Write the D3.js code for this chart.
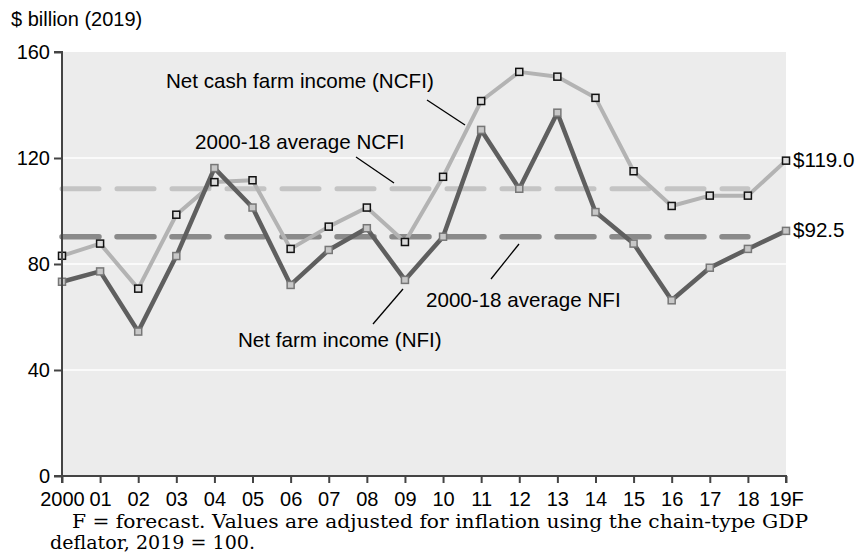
<!DOCTYPE html>
<html>
<head>
<meta charset="utf-8">
<script src="https://cdn.jsdelivr.net/npm/d3@7"></script>
<style>
body{margin:0;background:#fff;}
svg{display:block;}
</style>
</head>
<body>
<svg id="chart" width="857" height="553"></svg>
<script>
const years = ["2000","01","02","03","04","05","06","07","08","09","10","11","12","13","14","15","16","17","18","19F"];
const ncfi = [83.1,87.7,70.7,98.6,110.9,111.6,85.7,94.1,101.3,88.3,112.9,141.5,152.5,150.7,142.7,115.0,101.9,105.8,105.8,119.0];
const nfi  = [73.3,77.2,54.5,83.0,116.2,101.3,72.1,85.3,93.5,74.0,90.3,130.6,108.4,137.1,99.6,87.7,66.3,78.6,85.7,92.5];
const avgNcfi = 108.4;
const avgNfi = 90.3;
const yTicks = [0,40,80,120,160];
const endLabels = ["$119.0","$92.5"];

const svg = d3.select("#chart");
const m = {left:62, right:786, top:52, bottom:476};
const x = d3.scalePoint().domain(years).range([m.left, m.right]);
const y = d3.scaleLinear().domain([0,160]).range([m.bottom, m.top]);
const sans = "'Liberation Sans', Arial, sans-serif";
const fs = 20;
const fsAnn = 20.6;

// background
svg.append("rect").attr("x",m.left).attr("y",m.top).attr("width",m.right-m.left).attr("height",m.bottom-m.top).attr("fill","#ececec");
// gridlines
svg.append("g").selectAll("line").data(yTicks.filter(d=>d>0 && d<160)).join("line")
  .attr("x1",m.left).attr("x2",m.right).attr("y1",d=>y(d)).attr("y2",d=>y(d))
  .attr("stroke","#fff").attr("stroke-width",1.5);

// average dashed lines
svg.append("line").attr("x1",x("2000")).attr("x2",x("18")).attr("y1",y(avgNcfi)).attr("y2",y(avgNcfi))
  .attr("stroke","#c4c4c4").attr("stroke-width",5).attr("stroke-linecap","round").attr("stroke-dasharray","37 18");
svg.append("line").attr("x1",x("2000")).attr("x2",x("18")).attr("y1",y(avgNfi)).attr("y2",y(avgNfi))
  .attr("stroke","#8a8a8a").attr("stroke-width",5.5).attr("stroke-linecap","round").attr("stroke-dasharray","37 18");

const line = d3.line().x((d,i)=>x(years[i])).y(d=>y(d));
svg.append("path").datum(ncfi).attr("d",line).attr("fill","none").attr("stroke","#b3b3b3").attr("stroke-width",4).attr("stroke-linejoin","round");
svg.append("path").datum(nfi).attr("d",line).attr("fill","none").attr("stroke","#5f5f5f").attr("stroke-width",4.5).attr("stroke-linejoin","round");

const sz = 7;
svg.append("g").selectAll("rect").data(nfi).join("rect")
  .attr("x",(d,i)=>x(years[i])-sz/2).attr("y",d=>y(d)-sz/2).attr("width",sz).attr("height",sz)
  .attr("fill","#c8c8c8").attr("stroke","#777").attr("stroke-width",1.5);
svg.append("g").selectAll("rect").data(ncfi).join("rect")
  .attr("x",(d,i)=>x(years[i])-sz/2).attr("y",d=>y(d)-sz/2).attr("width",sz).attr("height",sz)
  .attr("fill","#dcdcdc").attr("stroke","#111").attr("stroke-width",1.5);

// axes
const ya = svg.append("g").attr("transform",`translate(${m.left},0)`)
  .call(d3.axisLeft(y).tickValues(yTicks).tickSize(8).tickPadding(4));
const xa = svg.append("g").attr("transform",`translate(0,${m.bottom})`)
  .call(d3.axisBottom(x).tickSize(7).tickPadding(9));
[ya,xa].forEach(a=>{
  a.attr("font-size",fs).attr("font-family",sans);
  a.select(".domain").attr("stroke","#444").attr("stroke-width",2);
  a.selectAll(".tick line").attr("stroke","#444").attr("stroke-width",2);
  a.selectAll("text").attr("font-family",sans).attr("font-size",fs).attr("fill","#000");
});
ya.select(".domain").attr("d",`M-8,${m.bottom}H0V${m.top}H-8`);
xa.select(".domain").attr("d",`M${m.left},7V0H${m.right}V7`);

// title
svg.append("text").attr("x",11).attr("y",26).attr("font-family",sans).attr("font-size",fs).text("$ billion (2019)");

// annotations
const ann = [
  {t:"Net cash farm income (NCFI)", x:166, y:88, l:[427,100,465,125]},
  {t:"2000-18 average NCFI", x:195, y:149, l:[356,157,394,183]},
  {t:"2000-18 average NFI", x:426, y:307, l:[519,244,491,279]},
  {t:"Net farm income (NFI)", x:238, y:347, l:[373,324,403,289]}
];
ann.forEach(a=>{
  svg.append("text").attr("x",a.x).attr("y",a.y).attr("font-family",sans).attr("font-size",fsAnn).text(a.t);
  svg.append("line").attr("x1",a.l[0]).attr("y1",a.l[1]).attr("x2",a.l[2]).attr("y2",a.l[3]).attr("stroke","#000").attr("stroke-width",1.3);
});

// end labels
svg.append("text").attr("x",x("19F")+7).attr("y",y(ncfi[19])+6).attr("font-family",sans).attr("font-size",fsAnn).text(endLabels[0]);
svg.append("text").attr("x",x("19F")+7).attr("y",y(nfi[19])+6).attr("font-family",sans).attr("font-size",fsAnn).text(endLabels[1]);

// footnote
const serif = "'DejaVu Serif', 'Liberation Serif', serif";
svg.append("text").attr("x",72).attr("y",528).attr("font-family",serif).attr("font-size",19)
  .attr("textLength",736).attr("lengthAdjust","spacingAndGlyphs")
  .text("F = forecast. Values are adjusted for inflation using the chain-type GDP");
svg.append("text").attr("x",50).attr("y",549).attr("font-family",serif).attr("font-size",19)
  .attr("textLength",205).attr("lengthAdjust","spacingAndGlyphs")
  .text("deflator, 2019 = 100.");
</script>
</body>
</html>
